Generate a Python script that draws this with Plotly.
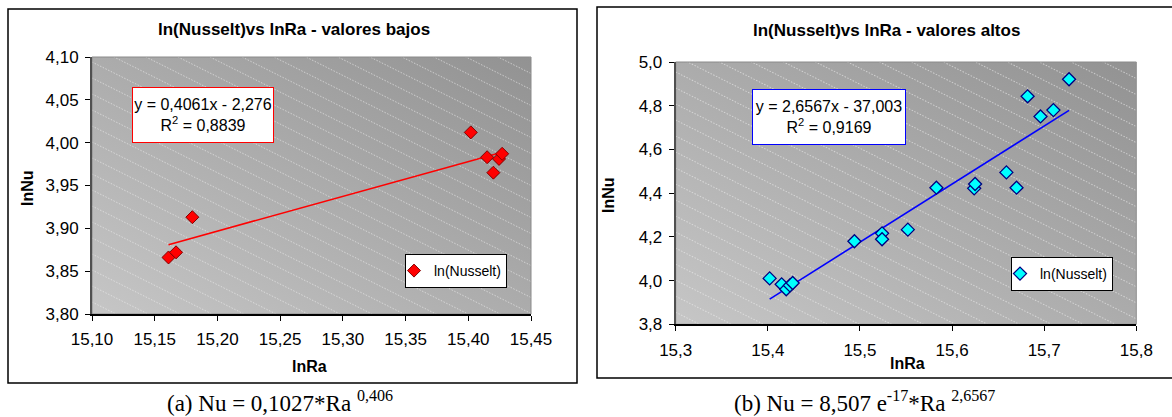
import base64
import plotly.graph_objects as go

# ---------------- data ----------------
lnRa_low = [15.161, 15.167, 15.180, 15.402, 15.415, 15.420, 15.4245, 15.427]
lnNu_low = [3.866, 3.872, 3.913, 4.012, 3.983, 3.965, 3.981, 3.987]

lnRa_high = [15.402, 15.415, 15.420, 15.424, 15.427, 15.494, 15.524, 15.524, 15.552,
             15.583, 15.624, 15.625, 15.659, 15.670, 15.682, 15.696, 15.710, 15.727]
lnNu_high = [4.010, 3.983, 3.960, 3.978, 3.989, 4.180, 4.216, 4.189, 4.233,
             4.425, 4.422, 4.442, 4.495, 4.425, 4.843, 4.751, 4.780, 4.921]

slope_low, intercept_low, r2_low = 0.4061, -2.276, 0.8839
slope_high, intercept_high, r2_high = 2.6567, -37.003, 0.9169

title_low = "ln(Nusselt)vs lnRa - valores bajos"
title_high = "ln(Nusselt)vs lnRa - valores altos"
series_name = "ln(Nusselt)"
caption_a = "(a) Nu = 0,1027*Ra <sup>0,406</sup>"
caption_b = "(b) Nu = 8,507 e<sup>-17</sup>*Ra <sup>2,6567</sup>"
eq_low = "y = 0,4061x - 2,276<br>R<sup>2</sup> = 0,8839"
eq_high = "y = 2,6567x - 37,003<br>R<sup>2</sup> = 0,9169"

# ---------------- layout helpers ----------------
W, H = 1172, 417
def fx(p): return p / W
def fy(p): return 1 - p / H

SANS = "Liberation Sans, Arial, sans-serif"
SERIF = "Liberation Serif, Times New Roman, serif"

def bg_svg(w, h, c1, c2):
    lines = []
    step = 16
    c = -int(w * 0.5) - step
    while c < h + step:
        lines.append(f'<line x1="0" y1="{c}" x2="{w}" y2="{c + 0.5 * w}"/>')
        c += step
    svg = (f'<svg xmlns="http://www.w3.org/2000/svg" width="{w}" height="{h}" '
           f'viewBox="0 0 {w} {h}" preserveAspectRatio="none">'
           f'<defs><linearGradient id="g" x1="0" y1="1" x2="1" y2="0">'
           f'<stop offset="0" stop-color="{c1}"/><stop offset="1" stop-color="{c2}"/>'
           f'</linearGradient></defs>'
           f'<rect width="{w}" height="{h}" fill="url(#g)"/>'
           f'<g stroke="#eeeeee" stroke-opacity="0.6" stroke-width="1" stroke-dasharray="1.5,1.5">'
           + "".join(lines) + '</g></svg>')
    return "data:image/svg+xml;base64," + base64.b64encode(svg.encode()).decode()

# plot areas (pixels)
L = dict(x0=92, x1=531, y0=57, y1=314)
R = dict(x0=675.7, x1=1136.3, y0=62, y1=324.3)

fig = go.Figure()

# trend lines
tx_low = [min(lnRa_low), max(lnRa_low)]
tx_high = [min(lnRa_high), max(lnRa_high)]
fig.add_trace(go.Scatter(x=tx_low, y=[slope_low * v + intercept_low for v in tx_low],
                         mode="lines", line=dict(color="#ff0000", width=1.6),
                         showlegend=False, xaxis="x", yaxis="y"))
fig.add_trace(go.Scatter(x=tx_high, y=[slope_high * v + intercept_high for v in tx_high],
                         mode="lines", line=dict(color="#0000ff", width=1.6),
                         showlegend=False, xaxis="x2", yaxis="y2"))

fig.add_trace(go.Scatter(x=lnRa_low, y=lnNu_low, mode="markers", name=series_name,
                         marker=dict(symbol="diamond", size=10, color="#ff0000",
                                     line=dict(color="#800000", width=1)),
                         xaxis="x", yaxis="y", legend="legend"))
fig.add_trace(go.Scatter(x=lnRa_high, y=lnNu_high, mode="markers", name=series_name,
                         marker=dict(symbol="diamond", size=10, color="#00ffff",
                                     line=dict(color="#000080", width=1.3)),
                         xaxis="x2", yaxis="y2", legend="legend2"))

axis_common = dict(showgrid=False, zeroline=False, ticks="outside", ticklen=5,
                   tickcolor="#000000", tickwidth=1,
                   tickfont=dict(family=SANS, size=17, color="#000000"),
                   showline=True, linewidth=2, automargin=False)

fig.update_layout(
    width=W, height=H, margin=dict(l=0, r=0, t=0, b=0, pad=0, autoexpand=False),
    paper_bgcolor="white", plot_bgcolor="rgba(0,0,0,0)",
    separators=",.",
    xaxis=dict(domain=[fx(L["x0"]), fx(L["x1"])], range=[15.10, 15.45], dtick=0.05,
               tick0=15.10, tickformat=".2f", linecolor="#000000", anchor="y",
               ticklabelstandoff=4, **axis_common),
    yaxis=dict(domain=[fy(L["y1"]), fy(L["y0"])], range=[3.80, 4.10], dtick=0.05,
               tick0=3.80, tickformat=".2f", linecolor="#505050", anchor="x",
               ticklabelstandoff=3, **axis_common),
    xaxis2=dict(domain=[fx(R["x0"]), fx(R["x1"])], range=[15.3, 15.8], dtick=0.1,
                tick0=15.3, tickformat=".1f", linecolor="#000000", anchor="y2",
                ticklabelstandoff=4, **axis_common),
    yaxis2=dict(domain=[fy(R["y1"]), fy(R["y0"])], range=[3.8, 5.0], dtick=0.2,
                tick0=3.8, tickformat=".1f", linecolor="#505050", anchor="x2",
                ticklabelstandoff=3, **axis_common),
    legend=dict(x=fx(405), y=fy(254), xanchor="left", yanchor="top",
                bgcolor="white", bordercolor="#000000", borderwidth=1,
                font=dict(family=SANS, size=14, color="#000000"),
                itemwidth=30, tracegroupgap=0, indentation=-12),
    legend2=dict(x=fx(1011), y=fy(257), xanchor="left", yanchor="top",
                 bgcolor="white", bordercolor="#000000", borderwidth=1,
                 font=dict(family=SANS, size=14, color="#000000"),
                 itemwidth=30, tracegroupgap=0, indentation=-12),
)

# backgrounds
fig.add_layout_image(source=bg_svg(439, 257, "#c6c6c6", "#929292"), xref="paper", yref="paper",
                     x=fx(L["x0"]), y=fy(L["y0"]), sizex=(L["x1"] - L["x0"]) / W,
                     sizey=(L["y1"] - L["y0"]) / H, xanchor="left", yanchor="top",
                     sizing="stretch", layer="below")
fig.add_layout_image(source=bg_svg(461, 262, "#c6c6c6", "#929292"), xref="paper", yref="paper",
                     x=fx(R["x0"]), y=fy(R["y0"]), sizex=(R["x1"] - R["x0"]) / W,
                     sizey=(R["y1"] - R["y0"]) / H, xanchor="left", yanchor="top",
                     sizing="stretch", layer="below")

# plot-area borders (light grey)
for xr, yr in (("x domain", "y domain"), ("x2 domain", "y2 domain")):
    fig.add_shape(type="rect", xref=xr, yref=yr, x0=0, x1=1, y0=0, y1=1,
                  line=dict(color="#8a8a8a", width=1), layer="below")

# outer chart frames
fig.add_shape(type="rect", xref="paper", yref="paper", x0=fx(8), x1=fx(577),
              y0=fy(383), y1=fy(9), line=dict(color="#000000", width=1.5))
fig.add_shape(type="rect", xref="paper", yref="paper", x0=fx(597), x1=fx(1190),
              y0=fy(378), y1=fy(7), line=dict(color="#000000", width=1.5))

ann = []
# titles
ann.append(dict(text=f"<b>{title_low}</b>", x=fx(294), y=fy(29)))
ann.append(dict(text=f"<b>{title_high}</b>", x=fx(886), y=fy(31)))
for a in ann:
    a.update(font=dict(family=SANS, size=17, color="#000000"))
# axis titles
ann.append(dict(text="<b>lnRa</b>", x=fx(309), y=fy(366), font=dict(family=SANS, size=16, color="#000")))
ann.append(dict(text="<b>lnNu</b>", x=fx(27), y=fy(188), textangle=-90,
                font=dict(family=SANS, size=16, color="#000")))
ann.append(dict(text="<b>lnRa</b>", x=fx(907), y=fy(363), font=dict(family=SANS, size=16, color="#000")))
ann.append(dict(text="<b>lnNu</b>", x=fx(608), y=fy(195), textangle=-90,
                font=dict(family=SANS, size=16, color="#000")))
# equation boxes
ann.append(dict(text=eq_low, x=fx(203.3), y=fy(114.7), width=138, height=52,
                bgcolor="white", bordercolor="#ff0000", borderwidth=1, borderpad=1,
                font=dict(family=SANS, size=16, color="#000")))
ann.append(dict(text=eq_high, x=fx(828.7), y=fy(116.7), width=150, height=52,
                bgcolor="white", bordercolor="#0000ff", borderwidth=1, borderpad=1,
                font=dict(family=SANS, size=16, color="#000")))
# captions
ann.append(dict(text=caption_a, x=fx(280), y=0.0, yanchor="bottom", borderpad=0,
                font=dict(family=SERIF, size=23, color="#000")))
ann.append(dict(text=caption_b, x=fx(864), y=0.0, yanchor="bottom", borderpad=0,
                font=dict(family=SERIF, size=23, color="#000")))

for a in ann:
    a.setdefault("xanchor", "center")
    a.setdefault("yanchor", "middle")
    fig.add_annotation(xref="paper", yref="paper", showarrow=False, **a)

fig.write_html("out.html", config={"displayModeBar": False},
               post_script="document.body.style.margin='0px';document.body.style.overflow='hidden';")
